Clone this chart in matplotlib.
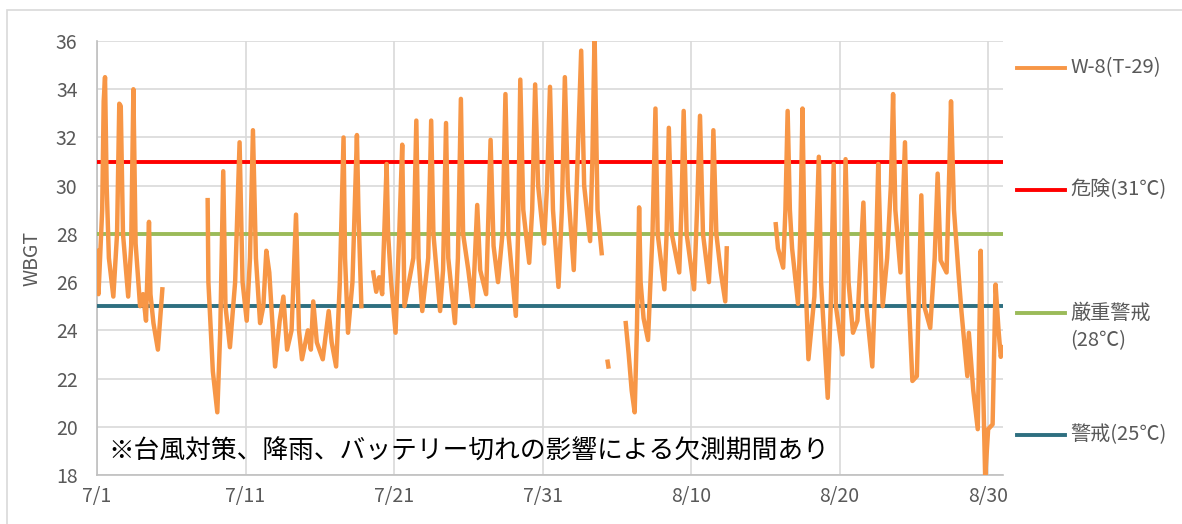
import matplotlib
matplotlib.use("Agg")
import matplotlib.pyplot as plt
import matplotlib.dates as mdates
from matplotlib.lines import Line2D
from matplotlib.patches import Rectangle
import numpy as np
import pandas as pd

plt.rcParams['font.family'] = ['Noto Sans CJK JP', 'DejaVu Sans']

# ---- data ----
start_date = "2023-07-01"
# elapsed days since 7/1 00:00 ; None marks a gap (missing measurements)
t_days = [
    0.0, 0.1, 0.35, 0.45, 0.54, 0.65, 0.8, 1.1, 1.35, 1.5, 1.6, 1.75, 2.1, 2.3, 2.45, 2.6,
    2.9, 3.1, 3.3, 3.5, 3.6, 3.8, 4.1, 4.4, None,
    7.45, 7.5, 7.8, 8.1, 8.3, 8.5, 8.65, 8.95, 9.3, 9.6, 9.8, 10.08, 10.3, 10.5, 10.7,
    10.98, 11.2, 11.4, 11.6, 11.99, 12.3, 12.55, 12.8, 13.1, 13.4, 13.6, 13.8, 14.2,
    14.4, 14.56, 14.8, 15.2, 15.6, 15.8, 16.1, 16.35, 16.6, 16.7, 16.9, 17.2, 17.5,
    17.6, 17.8, None,
    18.6, 18.8, 19.0, 19.2, 19.5, 19.6, 19.8, 20.1, 20.35, 20.55, 20.7, 21.0, 21.3,
    21.5, 21.65, 21.9, 22.3, 22.5, 22.65, 23.1, 23.3, 23.5, 23.65, 24.1, 24.3, 24.5,
    24.65, 25.0, 25.3, 25.6, 25.8, 26.2, 26.5, 26.7, 27.0, 27.3, 27.5, 27.7, 28.2,
    28.35, 28.5, 28.7, 29.1, 29.3, 29.5, 29.7, 30.1, 30.3, 30.5, 30.7, 31.07, 31.3,
    31.5, 31.7, 32.1, 32.3, 32.6, 32.8, 33.2, 33.35, 33.5, 33.7, 33.98, None,
    34.38, 34.43, None,
    35.6, 35.8, 36.0, 36.2, 36.35, 36.5, 36.6, 36.8, 37.1, 37.4, 37.6, 37.75, 38.2,
    38.35, 38.5, 38.7, 39.2, 39.35, 39.5, 39.7, 40.2, 40.4, 40.6, 40.8, 41.2, 41.35,
    41.5, 41.7, 42.0, 42.3, 42.4, None,
    45.7, 45.85, 46.2, 46.35, 46.5, 46.65, 46.8, 47.2, 47.35, 47.5, 47.65, 47.9, 48.3,
    48.6, 48.75, 49.2, 49.4, 49.6, 49.75, 50.2, 50.4, 50.6, 50.9, 51.2, 51.6, 51.8,
    52.2, 52.4, 52.6, 52.75, 52.9, 53.2, 53.45, 53.6, 53.75, 54.1, 54.4, 54.6, 54.9,
    55.2, 55.5, 55.7, 56.1, 56.4, 56.6, 56.8, 57.2, 57.4, 57.5, 57.7, 58.0, 58.2,
    58.6, 58.7, 59.0, 59.3, 59.5, 59.65, 59.8, 60.0, 60.3, 60.5, 60.7, 60.85, 61.0,
]
wbgt = [
    27.3, 25.5, 29.0, 33.5, 34.5, 30.0, 27.0, 25.4, 28.0, 33.4, 33.3, 28.0, 25.4, 27.5, 34.0, 27.6,
    25.0, 25.5, 24.4, 28.5, 25.5, 24.3, 23.2, 25.7, None,
    29.4, 26.0, 22.3, 20.6, 24.0, 30.6, 25.0, 23.3, 26.0, 31.8, 26.0, 24.4, 27.0, 32.3, 27.0,
    24.3, 25.0, 27.3, 26.4, 22.5, 24.4, 25.4, 23.2, 24.0, 28.8, 24.0, 22.8, 24.0,
    23.2, 25.2, 23.5, 22.8, 24.8, 23.5, 22.5, 26.0, 32.0, 27.0, 23.9, 26.0, 32.1,
    29.0, 25.0, None,
    26.4, 25.6, 26.2, 25.5, 30.9, 28.0, 26.0, 23.9, 28.0, 31.7, 25.0, 26.0, 27.0,
    32.7, 27.0, 24.8, 27.0, 32.7, 28.0, 24.8, 26.5, 32.6, 27.0, 24.3, 27.0, 33.6,
    28.0, 26.5, 25.0, 29.2, 26.5, 25.5, 31.9, 27.5, 26.0, 28.0, 33.8, 28.0, 24.6,
    28.0, 34.4, 29.0, 26.8, 29.0, 34.2, 30.0, 27.6, 30.0, 34.1, 29.0, 25.8, 29.0,
    34.5, 30.0, 26.5, 30.0, 35.6, 30.0, 27.7, 31.0, 36.3, 29.0, 27.2, None,
    22.7, 22.5, None,
    24.3, 23.0, 21.5, 20.6, 24.0, 29.1, 26.0, 24.5, 23.6, 28.0, 33.2, 28.0, 25.7,
    28.0, 32.4, 28.0, 26.4, 29.0, 33.1, 28.0, 25.7, 29.0, 32.9, 28.0, 26.0, 28.0,
    32.3, 28.0, 26.4, 25.2, 27.4, None,
    28.4, 27.4, 26.6, 29.0, 33.1, 29.0, 27.4, 25.1, 28.0, 33.2, 27.0, 22.8, 25.4,
    31.2, 26.0, 21.2, 25.0, 30.9, 25.0, 23.0, 31.1, 26.0, 23.9, 24.4, 29.3, 25.0,
    22.5, 26.0, 30.9, 27.6, 25.0, 27.0, 30.0, 33.8, 29.0, 26.4, 31.8, 26.0, 21.9,
    22.1, 29.6, 25.0, 24.1, 27.0, 30.5, 26.9, 26.4, 31.0, 33.5, 29.0, 26.4, 24.8,
    22.1, 23.9, 21.5, 19.9, 27.3, 22.0, 17.9, 19.9, 20.1, 25.9, 24.0, 22.9, 23.3,
]
series_label = "W-8(T-29)"
thresholds = [31, 28, 25]
threshold_labels = ["危険(31℃)", "厳重警戒\n(28℃)", "警戒(25℃)"]
threshold_colors = ["#FF0000", "#9BBB59", "#2E6F80"]
tick_days = [0, 10, 20, 30, 40, 50, 60]
note = "※台風対策、降雨、バッテリー切れの影響による欠測期間あり"

# ---- build time axis ----
base = pd.Timestamp(start_date)
x0 = mdates.date2num(base.to_pydatetime())
x = np.array([np.nan if d is None else x0 + d for d in t_days], dtype=float)
vals = np.array([np.nan if v is None else v for v in wbgt], dtype=float)

W, H = 1182, 524
fig = plt.figure(figsize=(W / 100, H / 100), dpi=100)
L, R, T, B = 97, 1003, 41, 475
ax = fig.add_axes([L / W, 1 - B / H, (R - L) / W, (B - T) / H])

grid_c = "#D9D9D9"
for th, c in zip(thresholds, threshold_colors):
    ax.axhline(th, color=c, lw=2.8, zorder=3)
ax.plot(x, vals, color="#F79646", lw=3.2, solid_joinstyle="round", zorder=4)

ax.set_xlim(x0, x0 + 61)
ax.set_ylim(18, 36)
ax.set_yticks(np.arange(18, 37, 2))
ax.set_xticks([x0 + d for d in tick_days])
ax.set_xticklabels([f"{(base + pd.Timedelta(days=d)).month}/{(base + pd.Timedelta(days=d)).day}"
                    for d in tick_days])
ax.grid(True, color=grid_c, lw=1.2, zorder=0)
ax.set_axisbelow(True)
for s in ["top", "right"]:
    ax.spines[s].set_visible(False)
for s in ["left", "bottom"]:
    ax.spines[s].set_color("#BFBFBF")
    ax.spines[s].set_linewidth(1.2)
ax.tick_params(axis="both", length=0, labelsize=14, labelcolor="#595959")
ax.tick_params(axis="y", pad=14)
ax.tick_params(axis="x", pad=8)

fig.text(32 / W, 1 - 258 / H, "WBGT", rotation=90, ha="center", va="center",
         fontsize=14, color="#595959")
ax.text((108 - L) / (R - L), (B - 452) / (B - T), note, transform=ax.transAxes,
        ha="left", va="center", fontsize=18.5, color="black", zorder=5)

# legend (manual)
leg_items = [(series_label, "#F79646", 68, 68)] + [
    (lab, c, yl, yt) for lab, c, yl, yt in zip(threshold_labels, threshold_colors,
                                                [190, 313, 435], [190, 327, 435])]
for lab, c, yl, yt in leg_items:
    fig.add_artist(Line2D([1017 / W, 1065 / W], [1 - yl / H, 1 - yl / H], color=c, lw=2.8,
                          transform=fig.transFigure))
    fig.text(1070 / W, 1 - yt / H, lab, ha="left", va="center", fontsize=14.5,
             color="#595959", linespacing=1.35)

fig.add_artist(Rectangle((7 / W, -0.05), 1.1, 1.05 - 10 / H, transform=fig.transFigure,
                         fill=False, edgecolor="#D9D9D9", lw=1.2))

fig.savefig("out.png", dpi=100)
